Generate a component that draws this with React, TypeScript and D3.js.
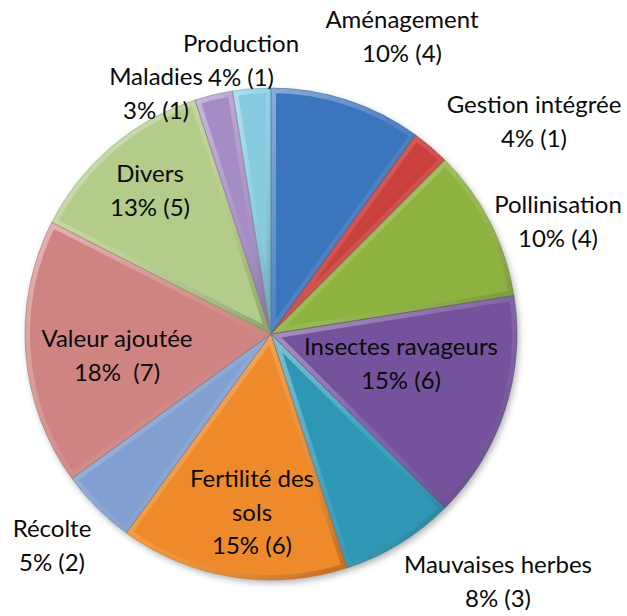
import React from "react";
import * as d3 from "d3";

const categories = [
  "Aménagement",
  "Gestion intégrée",
  "Pollinisation",
  "Insectes ravageurs",
  "Mauvaises herbes",
  "Fertilité des sols",
  "Récolte",
  "Valeur ajoutée",
  "Divers",
  "Maladies",
  "Production",
];
const counts = [4, 1, 4, 6, 3, 6, 2, 7, 5, 1, 1];
const percentLabels = ["10%", "4%", "10%", "15%", "8%", "15%", "5%", "18% ", "13%", "3%", "4%"];
const nameLines = [
  ["Aménagement"],
  ["Gestion intégrée"],
  ["Pollinisation"],
  ["Insectes ravageurs"],
  ["Mauvaises herbes"],
  ["Fertilité des", "sols"],
  ["Récolte"],
  ["Valeur ajoutée"],
  ["Divers"],
  ["Maladies"],
  ["Production"],
];
const colors = [
  "#3b74bd",
  "#c9413e",
  "#8cb23f",
  "#74529c",
  "#2e97b6",
  "#ef8a2a",
  "#819fd1",
  "#d08481",
  "#b3cc8a",
  "#a58cc5",
  "#86cbe0",
];
// label layout: [center x, first baseline y]
const labelLayout: [number, number][] = [
  [402, 28],
  [534, 113],
  [558, 213],
  [401, 355],
  [498, 573],
  [252, 487],
  [52, 537],
  [117, 347],
  [150, 182],
  [156, 85],
  [241, 52],
];

const W = 627;
const H = 616;
const CX = 271;
const CY = 334;
const R = 246;
const LINE = 33.5;

export default function App() {
  const pie = d3
    .pie<number>()
    .sort(null)
    .value((d) => d)
    .startAngle(0)
    .endAngle(2 * Math.PI);
  const arcs = pie(counts);
  const arc = d3.arc<d3.PieArcDatum<number>>().innerRadius(0).outerRadius(R);

  return (
    <svg
      width={W}
      height={H}
      style={{ position: "absolute", left: 0, top: 0, background: "#fff" }}
      fontFamily="Lato, 'Open Sans', sans-serif"
    >
      <defs>
        <linearGradient id="bevel" x1="0" y1="0" x2="1" y2="1">
          <stop offset="0" stopColor="#fff" stopOpacity={0.4} />
          <stop offset="0.5" stopColor="#fff" stopOpacity={0.1} />
          <stop offset="1" stopColor="#000" stopOpacity={0.22} />
        </linearGradient>
        <filter id="shadow" x="-10%" y="-10%" width="120%" height="120%">
          <feDropShadow dx="2" dy="3" stdDeviation="3" floodColor="#000" floodOpacity="0.3" />
        </filter>
        {arcs.map((a, i) => (
          <clipPath id={`clip${i}`} key={i}>
            <path d={arc(a) || ""} />
          </clipPath>
        ))}
      </defs>
      <g transform={`translate(${CX},${CY})`}>
        <g filter="url(#shadow)">
          {arcs.map((a, i) => (
            <path key={i} d={arc(a) || ""} fill={colors[i]} />
          ))}
        </g>
        {arcs.map((a, i) => (
          <g key={i} clipPath={`url(#clip${i})`}>
            <path d={arc(a) || ""} fill="none" stroke="url(#bevel)" strokeWidth={10} strokeLinejoin="round" />
          </g>
        ))}
        {arcs.map((a, i) => (
          <path
            key={"o" + i}
            d={arc(a) || ""}
            fill="none"
            stroke={d3.color(colors[i])!.darker(0.8).formatHex()}
            strokeOpacity={0.6}
            strokeWidth={0.8}
          />
        ))}
      </g>
      <g fontSize={24} fill="#0a0a0a" textAnchor="middle">
        {categories.map((c, i) => {
          const [x, y] = labelLayout[i];
          const lines = [...nameLines[i], `${percentLabels[i]} (${counts[i]})`];
          return (
            <g key={c}>
              {lines.map((l, j) => (
                <text key={j} x={x} y={y + j * LINE} style={{ whiteSpace: "pre" }}>
                  {l}
                </text>
              ))}
            </g>
          );
        })}
      </g>
    </svg>
  );
}
